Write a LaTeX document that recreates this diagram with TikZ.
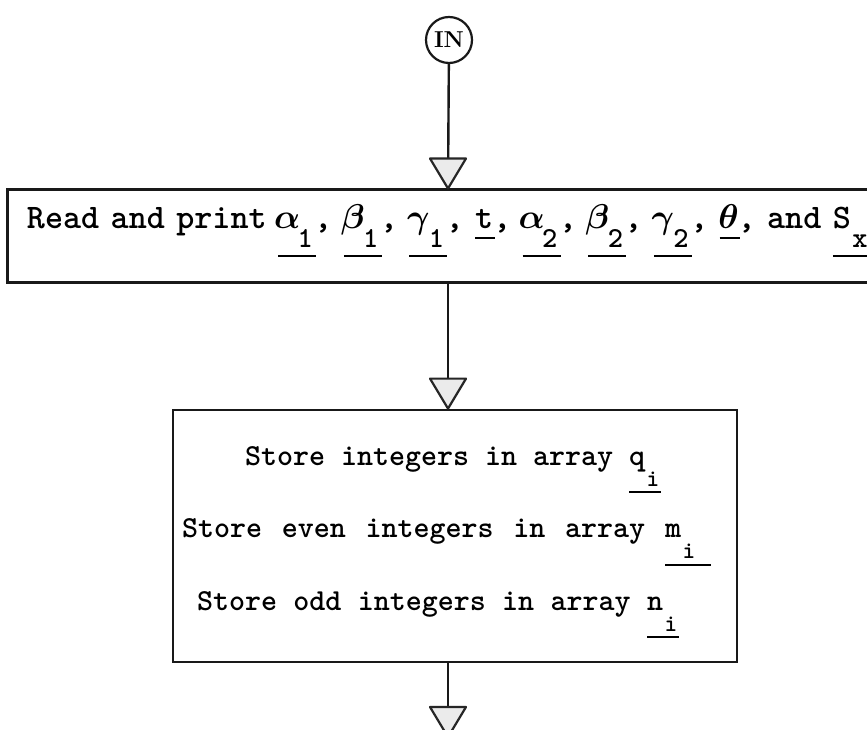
\RequirePackage{fix-cm}
\documentclass[tikz,border=0pt]{standalone}
\usetikzlibrary{calc}
\tikzset{
  conn/.style={line width=2.4pt, draw=black!90},
  procbox/.style={draw=black!90, line width=3pt, inner ysep=0pt, align=left},
  incirc/.style={circle, draw=black!90, line width=2.2pt, minimum size=46pt, inner sep=0pt, font=\bfseries\fontsize{23}{23}\selectfont},
  arrowtri/.style={draw=black!85, line width=2.2pt, fill=black!8, line join=round},
}
\newcommand\tcell[1]{\makebox[0.525em][c]{#1}}
\newcommand\ulr[2]{\rlap{\rule[-#2]{#1}{2pt}}}
\newcommand\vsa[2]{\ulr{38pt}{28pt}\tcell{#1}\tcell{\raisebox{-19pt}{\fontsize{29}{29}\selectfont #2}}}
\newcommand\vsb[1]{\ulr{20pt}{10pt}\tcell{#1}}
\newcommand\vsc[3]{\ulr{#3}{28pt}\tcell{#1}\tcell{\raisebox{-21pt}{\fontsize{24}{24}\selectfont #2}}}
\newcommand\pinline[2]{\makebox[#1][s]{\spaceskip=0.525em plus 1fil #2}}
\begin{document}
\begin{tikzpicture}[x=1pt,y=-1pt]
\useasboundingbox (0,0) rectangle (867,730);
\clip (0,0) rectangle (867,730);
\fill[white] (0,0) rectangle (867,730);
\node[incirc] (in) at (449,40) {IN};
\node[procbox, minimum width=882pt, minimum height=92pt, text width=842pt, inner xsep=20pt,
      text height=14pt, text depth=28pt, font=\ttfamily\bfseries\boldmath\fontsize{34.4}{34.4}\selectfont]
  (read) at (448,236)
  {Read and print \vsa{$\alpha$}{1}, \vsa{$\beta$}{1}, \vsa{$\gamma$}{1}, \vsb{t}, \vsa{$\alpha$}{2}, \vsa{$\beta$}{2}, \vsa{$\gamma$}{2}, \vsb{$\theta$}, and \vsa{S}{x}};
\node[procbox, line width=2.8pt, minimum width=564pt, minimum height=252pt, text width=546pt, inner xsep=9pt,
      font=\ttfamily\bfseries\fontsize{30.5}{72.5}\selectfont]
  (store) at (455,536)
  {\rule{0pt}{31pt}\hspace*{63pt}\pinline{384pt}{Store integers in array\ }\vsc{q}{i}{32pt}\\
   \pinline{483pt}{Store even integers in array\ }\vsc{m}{i}{46pt}\\
   \hspace*{15pt}\pinline{450pt}{Store odd integers in array\ }\vsc{n}{i}{32pt}};
\coordinate (out) at (448,737);
\draw[conn] (in) -- (read.north);
\draw[arrowtri] (read.north) -- ++(-18,-30) -- ++(36,0) -- cycle;
\draw[conn] (read.south) -- (read.south |- store.north);
\draw[arrowtri] (read.south |- store.north) -- ++(-18,-30) -- ++(36,0) -- cycle;
\draw[conn] (read.south |- store.south) -- (out);
\draw[arrowtri] (out) -- ++(-18,-30) -- ++(36,0) -- cycle;
\end{tikzpicture}
\end{document}
